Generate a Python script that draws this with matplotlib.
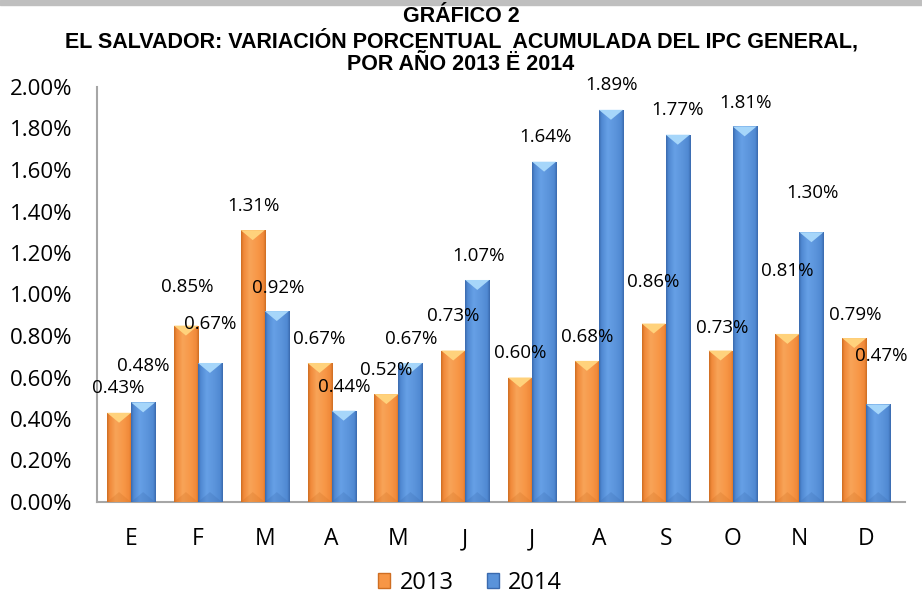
import matplotlib

matplotlib.use("Agg")
import matplotlib.pyplot as plt
from matplotlib.colors import LinearSegmentedColormap
from matplotlib.patches import Patch, Polygon, Rectangle
from matplotlib.ticker import FuncFormatter, MultipleLocator
import numpy as np


MESES = ["E", "F", "M", "A", "M", "J", "J", "A", "S", "O", "N", "D"]
IPC_2013 = [0.43, 0.85, 1.31, 0.67, 0.52, 0.73, 0.60, 0.68, 0.86, 0.73, 0.81, 0.79]
IPC_2014 = [0.48, 0.67, 0.92, 0.44, 0.67, 1.07, 1.64, 1.89, 1.77, 1.81, 1.30, 0.47]
SERIES = ["2013", "2014"]

TITULO = [
    "GRÁFICO 2",
    "EL SALVADOR: VARIACIÓN PORCENTUAL  ACUMULADA DEL IPC GENERAL,",
    "POR AÑO 2013 Ë 2014",
]

# desplazamiento de cada etiqueta respecto al tope de su barra (pixeles)
OFFSET_2013 = [(-1, 25), (1, 39), (1, 24), (0, 24), (0, 24), (0, 35),
               (0, 24), (0, 24), (-1, 42), (2, 23), (0, 63), (1, 23)]
OFFSET_2014 = [(0, 36), (0, 39), (1, 23), (1, 24), (1, 24), (1, 24),
               (1, 25), (1, 25), (0, 25), (1, 23), (1, 39), (3, 48)]

NARANJA = {"oscuro": "#CF6E22", "medio": "#F0893A", "claro": "#F8A458",
           "base": "#F79646", "tope": "#FFD27C"}
AZUL = {"oscuro": "#3A6AAE", "medio": "#5089D2", "claro": "#66A0E6",
        "base": "#5A93DA", "tope": "#A6D6FA"}

ANCHO = 0.36
FUENTE = "Open Sans"


def dibujar_barra(ax, x0, valor, colores):
    x1 = x0 + ANCHO
    xc = (x0 + x1) / 2
    barra = ax.bar(x0, valor, width=ANCHO, align="edge", color=colores["base"],
                   linewidth=0, zorder=2)[0]

    cmap = LinearSegmentedColormap.from_list(
        "lado",
        [(0.0, colores["oscuro"]), (0.1, colores["medio"]), (0.35, colores["claro"]),
         (0.7, colores["base"]), (0.9, colores["medio"]), (1.0, colores["oscuro"])],
    )
    grad = np.linspace(0, 1, 64).reshape(1, -1)
    img = ax.imshow(grad, cmap=cmap, extent=(x0, x1, 0, valor), aspect="auto",
                    zorder=3, interpolation="bilinear")
    img.set_clip_path(barra)

    d = 0.048
    tope = Polygon([(x0, valor), (x1, valor), (xc, valor - d)], closed=True,
                   facecolor=colores["tope"], edgecolor="none", zorder=4)
    ax.add_patch(tope)
    base = Polygon([(x0, 0), (x1, 0), (xc, d)], closed=True,
                   facecolor=colores["oscuro"], edgecolor="none", alpha=0.25, zorder=4)
    ax.add_patch(base)


def main():
    fig = plt.figure(figsize=(9.22, 5.95), dpi=100)
    ax = fig.add_axes([97 / 922, 93 / 595, 808 / 922, 415 / 595])

    x = np.arange(len(MESES))
    for i in x:
        dibujar_barra(ax, i - ANCHO, IPC_2013[i], NARANJA)
        dibujar_barra(ax, i, IPC_2014[i], AZUL)

    for i in x:
        for valor, centro, (dx, dy) in [
            (IPC_2013[i], i - ANCHO / 2, OFFSET_2013[i]),
            (IPC_2014[i], i + ANCHO / 2, OFFSET_2014[i]),
        ]:
            ax.annotate(f"{valor:.2f}%", (centro, valor), xytext=(dx, dy),
                        textcoords="offset pixels", ha="center", va="center",
                        fontsize=13.5, family=FUENTE, color="black", zorder=6)

    ax.set_xlim(-0.51, 11.58)
    ax.set_ylim(0, 2.0)
    ax.yaxis.set_major_locator(MultipleLocator(0.2))
    ax.yaxis.set_major_formatter(FuncFormatter(lambda v, _: f"{v:.2f}%"))
    ax.set_xticks(x)
    ax.set_xticklabels(MESES)

    ax.tick_params(axis="y", length=0, pad=18, labelsize=16)
    ax.tick_params(axis="x", length=0, pad=18, labelsize=16.5)
    for etiqueta in ax.get_xticklabels() + ax.get_yticklabels():
        etiqueta.set_family(FUENTE)

    for lado in ["top", "right"]:
        ax.spines[lado].set_visible(False)
    for lado in ["left", "bottom"]:
        ax.spines[lado].set_color("#A6A6A6")
        ax.spines[lado].set_linewidth(1.5)

    manijas = [Patch(facecolor=NARANJA["base"], edgecolor=NARANJA["oscuro"]),
               Patch(facecolor=AZUL["base"], edgecolor=AZUL["oscuro"])]
    fig.legend(manijas, SERIES, loc="center", bbox_to_anchor=(0.51, 0.02),
               ncol=2, frameon=False, handlelength=0.5, handleheight=0.6,
               handletextpad=0.4, columnspacing=1.4, prop={"family": FUENTE, "size": 17})

    fig.patches.append(Rectangle((0, 1 - 5 / 595), 1, 5 / 595, transform=fig.transFigure,
                                 color="#BFBFBF", zorder=0))
    for texto, y in zip(TITULO, [16, 41, 64]):
        fig.text(0.5, 1 - y / 595, texto, ha="center", va="center", fontsize=15.5,
                 fontweight="bold", family="Liberation Sans")

    fig.savefig("out.png", dpi=100)
    plt.close(fig)


if __name__ == "__main__":
    main()
